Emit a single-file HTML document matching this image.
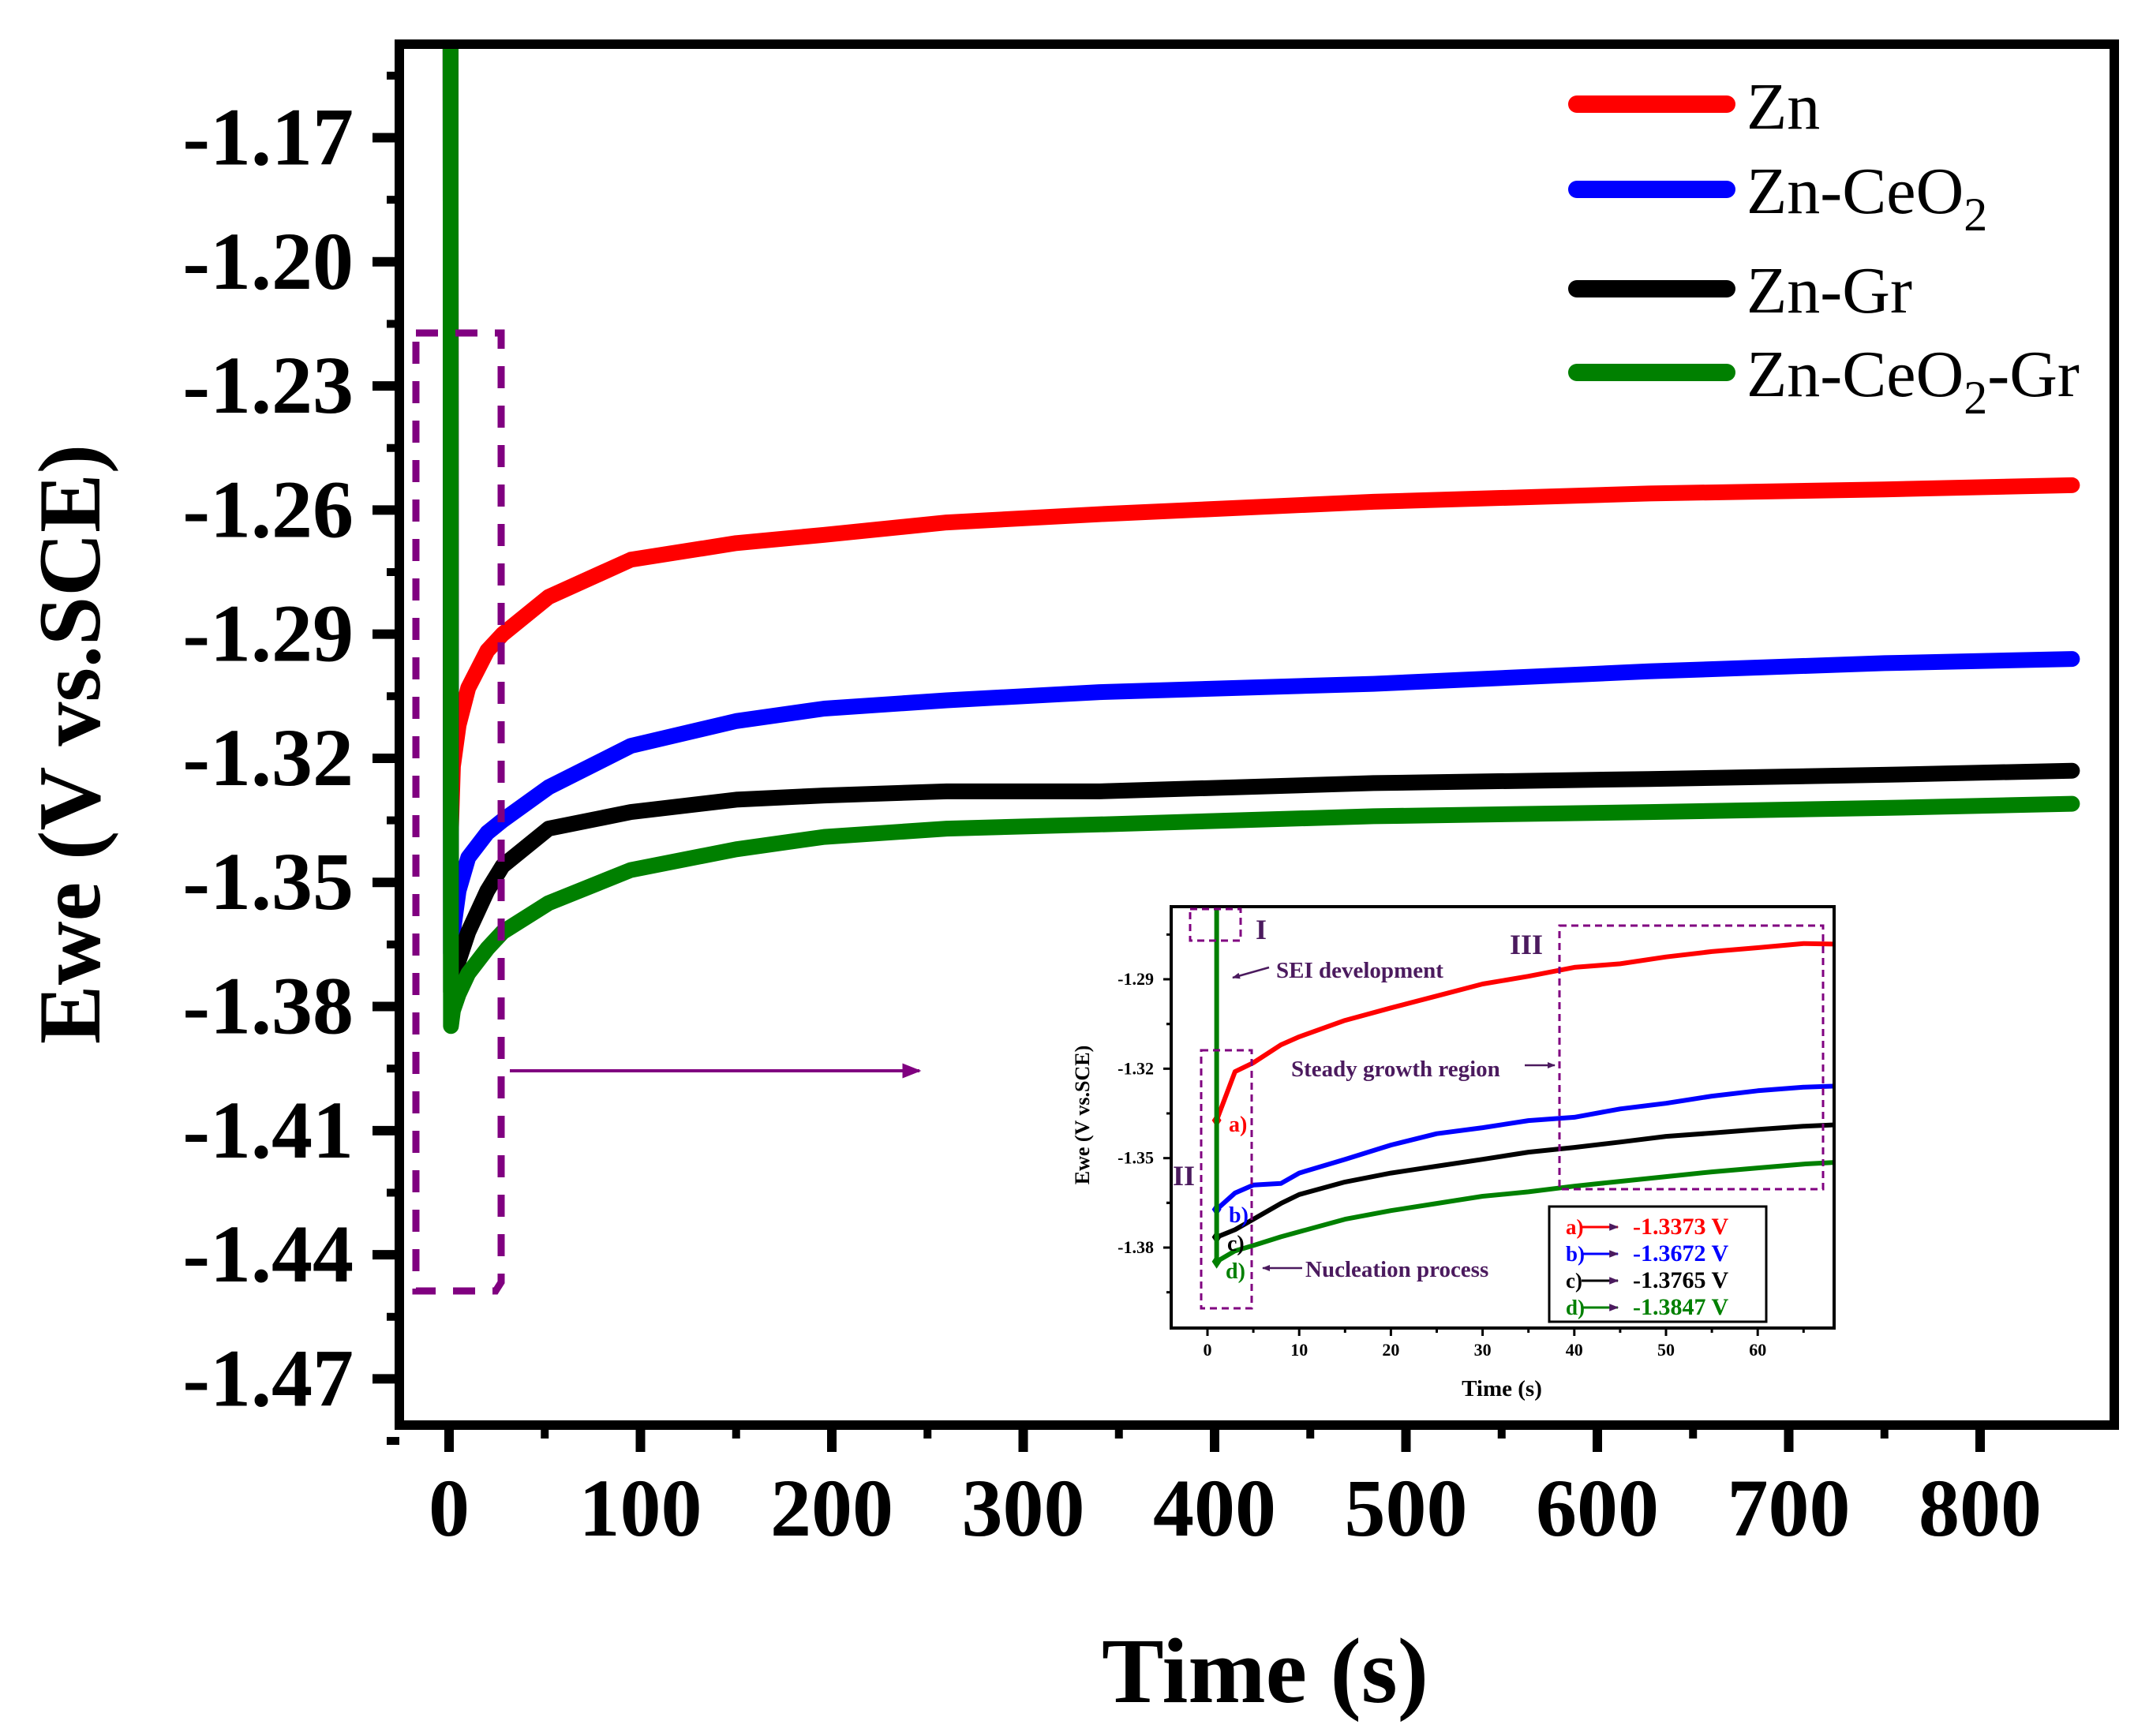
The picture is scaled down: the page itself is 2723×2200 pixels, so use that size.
<!DOCTYPE html>
<html><head><meta charset="utf-8"><style>
html,body{margin:0;padding:0;background:#fff;}
svg{display:block;font-family:"Liberation Serif",serif;}
</style></head><body>
<svg id="chart" width="2723" height="2200" viewBox="0 0 2723 2200" xmlns="http://www.w3.org/2000/svg">
<defs>
<clipPath id="mainClip"><rect x="512" y="56" width="2161" height="1744"/></clipPath>
<clipPath id="inClip"><rect x="1486" y="1151" width="836" height="530"/></clipPath>
<marker id="ah" viewBox="0 0 10 10" refX="9" refY="5" markerWidth="6" markerHeight="6" orient="auto"><path d="M0,1 L10,5 L0,9 z" fill="#800080"/></marker>
<marker id="ahs" viewBox="0 0 10 10" refX="9" refY="5" markerWidth="4" markerHeight="4" orient="auto"><path d="M0,1 L10,5 L0,9 z" fill="#4b1a5e"/></marker>
</defs>
<g id="main-series" clip-path="url(#mainClip)"></g>
<rect x="506" y="56" width="2173" height="1750" fill="none" stroke="#000" stroke-width="12"/>
<g id="main-axes"></g>
<text x="1603" y="2157" font-size="118" font-weight="bold" text-anchor="middle">Time (s)</text>
<text transform="translate(126,943) rotate(-90)" font-size="112" font-weight="bold" text-anchor="middle">Ewe (V vs.SCE)</text>
<path d="M527,422 L635,422 L635,1625 L628,1636 L527,1636 Z" fill="none" stroke="#800080" stroke-width="9" stroke-dasharray="28,22"/>
<line x1="646" y1="1357" x2="1165" y2="1357" stroke="#800080" stroke-width="4" marker-end="url(#ah)"/>
<g>
<g><line x1="1998" y1="132" x2="2188" y2="132" stroke="#ff0000" stroke-width="22" stroke-linecap="round"/><text x="2213" y="163" font-size="84">Zn</text></g>
<g><line x1="1998" y1="240" x2="2188" y2="240" stroke="#0000ff" stroke-width="22" stroke-linecap="round"/><text x="2213" y="270" font-size="84">Zn-CeO<tspan font-size="60" dy="22">2</tspan></text></g>
<g><line x1="1998" y1="366" x2="2188" y2="366" stroke="#000" stroke-width="22" stroke-linecap="round"/><text x="2213" y="396" font-size="84">Zn-Gr</text></g>
<g><line x1="1998" y1="472" x2="2188" y2="472" stroke="#008000" stroke-width="22" stroke-linecap="round"/><text x="2213" y="502" font-size="84">Zn-CeO<tspan font-size="60" dy="22">2</tspan><tspan dy="-22">-Gr</tspan></text></g>
</g>
<rect x="1484" y="1149" width="840" height="534" fill="#fff" stroke="none"/>
<g id="inset-series" clip-path="url(#inClip)"></g>
<rect x="1484" y="1149" width="840" height="534" fill="none" stroke="#000" stroke-width="4"/>
<g id="inset-axes"></g>
<text x="1903" y="1769" font-size="29" font-weight="bold" text-anchor="middle">Time (s)</text>
<text transform="translate(1380,1413) rotate(-90)" font-size="26" font-weight="bold" text-anchor="middle">Ewe (V vs.SCE)</text>
<g fill="none" stroke="#800080" stroke-width="3" stroke-dasharray="9,6">
<rect x="1508" y="1152" width="64" height="40"/>
<rect x="1522" y="1331" width="64" height="327"/>
<rect x="1976" y="1173" width="334" height="334"/>
</g>
<g fill="#4b1a5e" font-weight="bold">
<text x="1591" y="1190" font-size="36">I</text>
<text x="1486" y="1502" font-size="36">II</text>
<text x="1913" y="1209" font-size="36">III</text>
<text x="1617" y="1239" font-size="29">SEI development</text>
<text x="1636" y="1364" font-size="29">Steady growth region</text>
<text x="1654" y="1618" font-size="29">Nucleation process</text>
</g>
<g stroke="#4b1a5e" stroke-width="2.5">
<line x1="1608" y1="1226" x2="1562" y2="1239" marker-end="url(#ahs)"/>
<line x1="1932" y1="1350" x2="1970" y2="1350" marker-end="url(#ahs)"/>
<line x1="1650" y1="1607" x2="1600" y2="1607" marker-end="url(#ahs)"/>
</g>
<g font-weight="bold" font-size="28">
<text x="1557" y="1434" fill="#ff0000">a)</text>
<text x="1557" y="1549" fill="#0000ff">b)</text>
<text x="1555" y="1585" fill="#000">c)</text>
<text x="1553" y="1620" fill="#008000">d)</text>
</g>
<g>
<rect x="1963" y="1529" width="275" height="146" fill="#fff" stroke="#000" stroke-width="3"/>
<g font-weight="bold" font-size="30">
<text x="1984" y="1564" fill="#ff0000" font-size="27">a)</text><line x1="2004" y1="1555" x2="2050" y2="1555" stroke="#ff0000" stroke-width="3" marker-end="url(#ahs)"/><text x="2069" y="1564" fill="#ff0000">-1.3373 V</text>
<text x="1984" y="1598" fill="#0000ff" font-size="27">b)</text><line x1="2004" y1="1589" x2="2050" y2="1589" stroke="#0000ff" stroke-width="3" marker-end="url(#ahs)"/><text x="2069" y="1598" fill="#0000ff">-1.3672 V</text>
<text x="1984" y="1632" fill="#000" font-size="27">c)</text><line x1="2004" y1="1623" x2="2050" y2="1623" stroke="#000" stroke-width="3" marker-end="url(#ahs)"/><text x="2069" y="1632" fill="#000">-1.3765 V</text>
<text x="1984" y="1666" fill="#008000" font-size="27">d)</text><line x1="2004" y1="1657" x2="2050" y2="1657" stroke="#008000" stroke-width="3" marker-end="url(#ahs)"/><text x="2069" y="1666" fill="#008000">-1.3847 V</text>
</g>
</g>
</svg>
<script>
// ---- main chart data ----
const mainTimes = [0.8,1,2,5,10,20,28,52,95,150,196,260,340,483,627,750,848];
const znMain     = [-1.14,-1.3373,-1.322,-1.312,-1.303,-1.294,-1.290,-1.281,-1.272,-1.268,-1.266,-1.263,-1.261,-1.258,-1.256,-1.255,-1.254];
const znCeo2Main = [-1.14,-1.3672,-1.362,-1.352,-1.344,-1.338,-1.335,-1.327,-1.317,-1.311,-1.308,-1.306,-1.304,-1.302,-1.299,-1.297,-1.296];
const znGrMain   = [-1.14,-1.3765,-1.374,-1.369,-1.362,-1.352,-1.346,-1.337,-1.333,-1.330,-1.329,-1.328,-1.328,-1.326,-1.325,-1.324,-1.323];
const znCeo2GrMain=[-1.14,-1.3847,-1.381,-1.377,-1.372,-1.366,-1.362,-1.355,-1.347,-1.342,-1.339,-1.337,-1.336,-1.334,-1.333,-1.332,-1.331];
const xTickLabels = ['0','100','200','300','400','500','600','700','800'];
const yTickLabels = ['-1.17','-1.20','-1.23','-1.26','-1.29','-1.32','-1.35','-1.38','-1.41','-1.44','-1.47'];
// ---- inset data ----
const insetTimes = [1,3,5,8,10,15,20,25,30,35,40,45,50,55,60,65,68.5];
const znInset     = [-1.3373,-1.321,-1.318,-1.312,-1.3093,-1.3038,-1.2996,-1.2956,-1.2916,-1.2890,-1.2860,-1.2848,-1.2825,-1.2807,-1.2794,-1.2780,-1.2782];
const znCeo2Inset = [-1.3672,-1.3617,-1.3590,-1.3585,-1.3550,-1.3504,-1.3456,-1.3418,-1.3398,-1.3374,-1.3363,-1.3335,-1.3316,-1.3292,-1.3274,-1.3262,-1.3258];
const znGrInset   = [-1.3765,-1.3740,-1.3705,-1.3652,-1.3622,-1.3580,-1.3550,-1.3527,-1.3504,-1.3480,-1.3464,-1.3446,-1.3427,-1.3416,-1.3404,-1.3393,-1.3388];
const znCeo2GrInset=[-1.3847,-1.3811,-1.3793,-1.3764,-1.3747,-1.3705,-1.3676,-1.3652,-1.3628,-1.3613,-1.3594,-1.3578,-1.3562,-1.3546,-1.3533,-1.3520,-1.3514];
const insetXTickLabels = ['0','10','20','30','40','50','60'];
const insetYTickLabels = ['-1.29','-1.32','-1.35','-1.38'];

const NS='http://www.w3.org/2000/svg';
function mk(tag, attrs, parent){const e=document.createElementNS(NS,tag);for(const k in attrs)e.setAttribute(k,attrs[k]);parent.appendChild(e);return e;}
const xMain = t => 569 + t*2.425;
const yMain = v => 174.5 + (-1.17 - v)*5243;
const xIn = t => 1530 + t*11.62;
const yIn = v => 1241 + (-1.29 - v)*3778;

const gMA=document.getElementById('main-axes');
xTickLabels.forEach((lab,i)=>{
  const x=xMain(parseFloat(lab));
  const tk=mk('line',{x1:x,y1:1806,x2:x,y2:1840,stroke:'#000','stroke-width':12},gMA);
  
  
  const tx=mk('text',{x:x,y:1946,'font-size':104,'font-weight':'bold','text-anchor':'middle'},gMA);
  tx.textContent=lab;
  
  
  if(i<xTickLabels.length-1){
    const xm=xMain(parseFloat(lab)+50);
    const mn=mk('line',{x1:xm,y1:1806,x2:xm,y2:1823,stroke:'#000','stroke-width':10},gMA);
    
    
  }
});
yTickLabels.forEach((lab,i)=>{
  const v=parseFloat(lab), y=yMain(v);
  const tk=mk('line',{x1:472,y1:y,x2:506,y2:y,stroke:'#000','stroke-width':12},gMA);
  
  
  const tx=mk('text',{x:448,y:y+34,'font-size':104,'font-weight':'bold','text-anchor':'end'},gMA);
  tx.textContent=lab;
  
  
  const ym=yMain(v+0.015);
  const mn=mk('line',{x1:490,y1:ym,x2:506,y2:ym,stroke:'#000','stroke-width':10},gMA);
  
  
});
{const ym=yMain(-1.47-0.015);const mn=mk('line',{x1:490,y1:ym,x2:506,y2:ym,stroke:'#000','stroke-width':10},gMA);

}

function drawSeries(parent, times, vals, xf, yf, color, width, name){
  const pts=times.map((t,i)=>[xf(t),yf(vals[i])]);
  const p=mk('polyline',{points:pts.map(p=>p[0].toFixed(1)+','+p[1].toFixed(1)).join(' '),fill:'none',stroke:color,'stroke-width':width,'stroke-linejoin':'round','stroke-linecap':'round'},parent);
  
  
  return p;
}
const gMS=document.getElementById('main-series');
drawSeries(gMS,mainTimes,znMain,xMain,yMain,'#ff0000',20,'series-zn');
drawSeries(gMS,mainTimes,znCeo2Main,xMain,yMain,'#0000ff',20,'series-zn-ceo2');
drawSeries(gMS,mainTimes,znGrMain,xMain,yMain,'#000000',20,'series-zn-gr');
drawSeries(gMS,mainTimes,znCeo2GrMain,xMain,yMain,'#008000',20,'series-zn-ceo2-gr');

const gIA=document.getElementById('inset-axes');
insetXTickLabels.forEach((lab,i)=>{
  const x=xIn(parseFloat(lab));
  const tk=mk('line',{x1:x,y1:1683,x2:x,y2:1693,stroke:'#000','stroke-width':3},gIA);
  
  
  const tx=mk('text',{x:x,y:1718,'font-size':22,'font-weight':'bold','text-anchor':'middle'},gIA);
  tx.textContent=lab;
  
  
  const xm=xIn(parseFloat(lab)+5);
  const mn=mk('line',{x1:xm,y1:1683,x2:xm,y2:1689,stroke:'#000','stroke-width':3},gIA);
  
  
});
insetYTickLabels.forEach((lab,i)=>{
  const v=parseFloat(lab), y=yIn(v);
  const tk=mk('line',{x1:1474,y1:y,x2:1484,y2:y,stroke:'#000','stroke-width':3},gIA);
  
  
  const tx=mk('text',{x:1462,y:y+7,'font-size':22,'font-weight':'bold','text-anchor':'end'},gIA);
  tx.textContent=lab;
  
  
  [0.015,-0.015].forEach(d=>{const ym=yIn(v+d);if(ym>1152&&ym<1680){
    const mn=mk('line',{x1:1478,y1:ym,x2:1484,y2:ym,stroke:'#000','stroke-width':3},gIA);
    
    }});
});
const gIS=document.getElementById('inset-series');
const inSeries=[[znInset,'#ff0000','inset-series-zn'],[znCeo2Inset,'#0000ff','inset-series-zn-ceo2'],[znGrInset,'#000000','inset-series-zn-gr'],[znCeo2GrInset,'#008000','inset-series-zn-ceo2-gr']];
inSeries.forEach(s=>{
  drawSeries(gIS,insetTimes,s[0],xIn,yIn,s[1],6,s[2]);
  const x=xIn(insetTimes[0]), y=yIn(s[0][0]);
  const d=mk('path',{d:`M${x},${y-9} L${x+6},${y} L${x},${y+9} L${x-6},${y} Z`,fill:s[1]},gIS);
  
  
});
const sp=mk('line',{x1:xIn(insetTimes[0]),y1:yIn(znCeo2GrInset[0]),x2:xIn(insetTimes[0]),y2:1140,stroke:'#008000','stroke-width':6},gIS);


</script>
</body></html>
